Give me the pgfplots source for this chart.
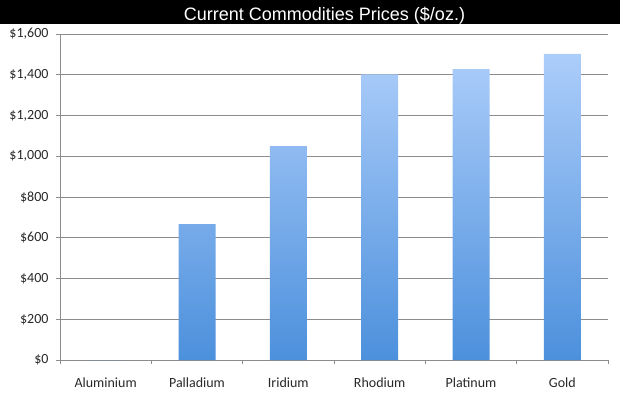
\documentclass[border=0pt]{standalone}
\usepackage{fontspec}
\setmainfont{Carlito}
\newfontfamily\titlefont{Liberation Sans}
\usepackage{pgfplots}
\pgfplotsset{compat=1.18}
\definecolor{barTop}{RGB}{172,205,250}
\definecolor{barBot}{RGB}{76,144,220}
\definecolor{gridc}{RGB}{140,140,140}
\definecolor{labc}{RGB}{40,40,40}
\begin{document}
\begin{tikzpicture}[x=1pt,y=1pt]
\path[use as bounding box] (-60,-37) rectangle (560,360);
\fill[black] (-60,336) rectangle (560,360);
\node[text=white, anchor=base, inner sep=0pt, font=\titlefont\fontsize{18}{20}\selectfont] at (264.5,339.5) {Current Commodities Prices (\$/oz.)};
\begin{axis}[at={(0,0)}, anchor=south west, scale only axis, width=548pt, height=326pt,
  xmin=-0.5, xmax=5.5, ymin=0, ymax=1600,
  ytick={0,200,...,1600},
  ymajorgrids, grid style={gridc, line width=0.9pt},
  axis x line=bottom, axis y line=left,
  axis line style={gridc, line width=0.9pt, -},
  xtick={0,...,5},
  xticklabels={Aluminium,Palladium,Iridium,Rhodium,Platinum,Gold},
  major x tick style={draw=none},
  minor xtick={-0.5,0.5,1.5,2.5,3.5,4.5,5.5},
  minor x tick style={gridc, line width=0.9pt},
  minor tick length=4pt,
  major tick length=4pt,
  y tick style={gridc, line width=0.9pt},
  tick align=outside,
  yticklabel={\$\pgfmathprintnumber[assume math mode=true,1000 sep={,}]{\tick}},
  ticklabel style={font=\fontsize{14}{16}\selectfont, text=labc},
  xticklabel style={yshift=-10pt},
  yticklabel style={xshift=-4pt},
]
\addplot[ybar, bar width=37pt, draw=none, top color=barTop, bottom color=barBot]
  coordinates {(0,0) (1,667) (2,1050) (3,1402) (4,1428) (5,1502)};
\end{axis}
\end{tikzpicture}
\end{document}
